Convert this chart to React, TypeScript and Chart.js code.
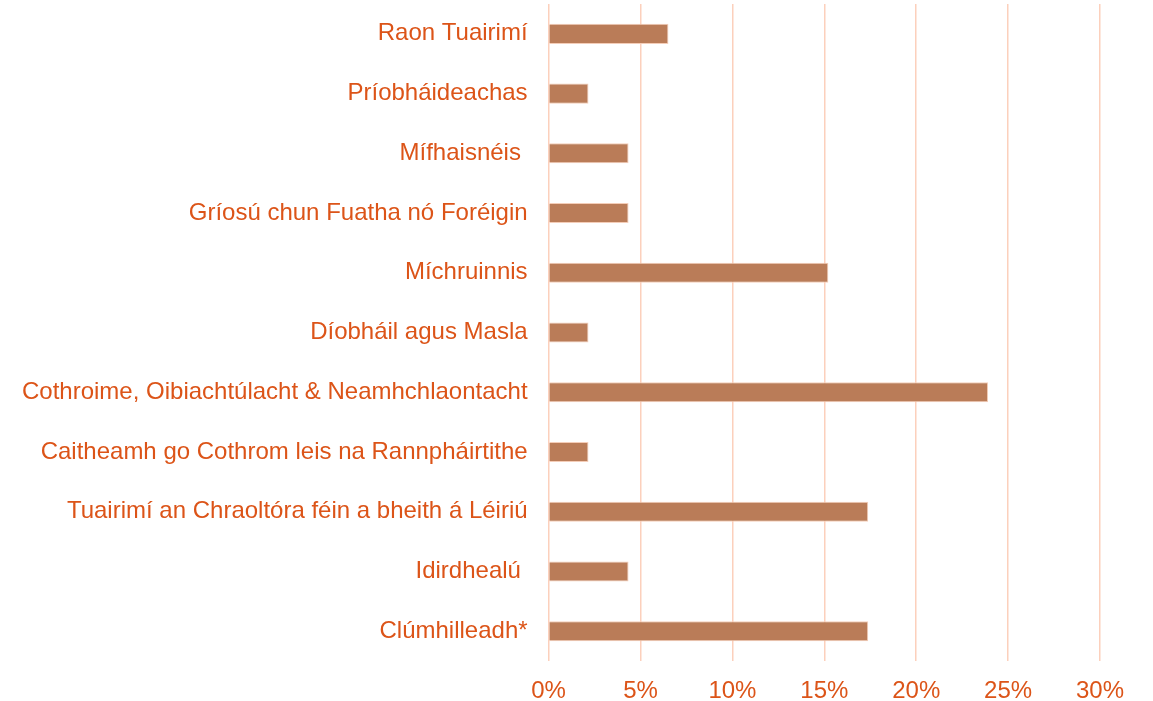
import React, { useEffect, useRef } from "react";
import { Chart, registerables } from "chart.js";

Chart.register(...registerables);

const categories = [
  "Raon Tuairimí",
  "Príobháideachas",
  "Mífhaisnéis ",
  "Gríosú chun Fuatha nó Foréigin",
  "Míchruinnis",
  "Díobháil agus Masla",
  "Cothroime, Oibiachtúlacht & Neamhchlaontacht",
  "Caitheamh go Cothrom leis na Rannpháirtithe",
  "Tuairimí an Chraoltóra féin a bheith á Léiriú",
  "Idirdhealú ",
  "Clúmhilleadh*",
];

const values = [6.52, 2.17, 4.35, 4.35, 15.22, 2.17, 23.91, 2.17, 17.39, 4.35, 17.39];

const xTicks = [0, 5, 10, 15, 20, 25, 30];

const TEXT = "#DC5418";
const FONT = "'Liberation Sans', Arial, sans-serif";

export default function App() {
  const ref = useRef<HTMLCanvasElement>(null);
  useEffect(() => {
    if (!ref.current) return;
    const chart = new Chart(ref.current, {
      type: "bar",
      data: {
        labels: categories,
        datasets: [
          {
            data: values,
            backgroundColor: "#BA7C58",
            borderColor: "#F4CDB8",
            borderWidth: 1,
            barPercentage: 0.335,
            categoryPercentage: 1,
          },
        ],
      },
      options: {
        indexAxis: "y",
        animation: false,
        responsive: false,
        maintainAspectRatio: false,
        layout: { padding: { top: 4, right: 53, left: 1, bottom: -21 } },
        plugins: { legend: { display: false }, tooltip: { enabled: false } },
        scales: {
          x: {
            min: 0,
            max: 30,
            afterBuildTicks: (axis: any) => {
              axis.ticks = xTicks.map((v) => ({ value: v }));
            },
            grid: { color: "#FCD0BC", lineWidth: 1.5, drawTicks: false },
            border: { display: false },
            ticks: {
              color: TEXT,
              font: { family: FONT, size: 24 },
              padding: 16,
              callback: (v: any) => v + "%",
            },
          },
          y: {
            grid: { display: false, drawTicks: false },
            border: { display: false },
            afterFit: (axis: any) => {
              axis.paddingTop = 0;
              axis.paddingBottom = 0;
            },
            ticks: {
              color: TEXT,
              font: { family: FONT, size: 24 },
              padding: 21,
            },
          },
        },
      },
    });
    return () => chart.destroy();
  }, []);
  return (
    <div style={{ position: "fixed", left: 0, top: 0, width: 1153, height: 701, background: "#fff" }}>
      <canvas ref={ref} width={1153} height={701} />
    </div>
  );
}
